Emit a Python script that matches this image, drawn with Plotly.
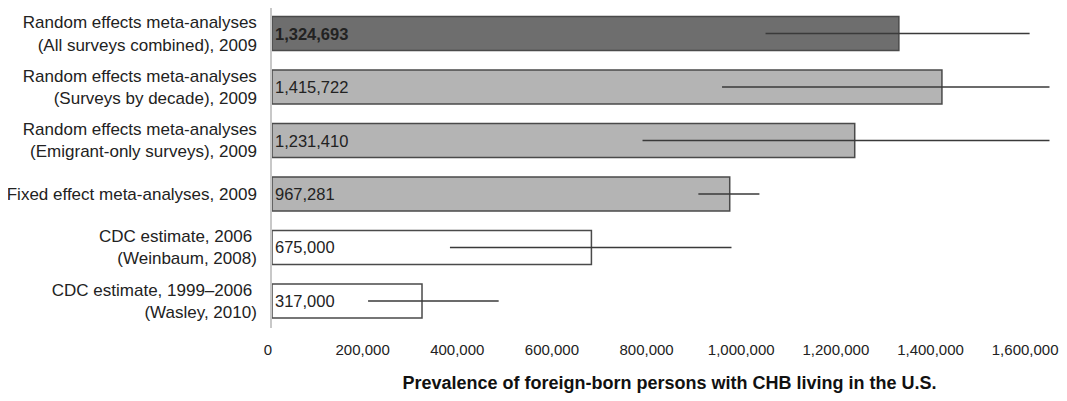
import plotly.graph_objects as go

categories = [
    "Random effects meta-analyses<br>(All surveys combined), 2009",
    "Random effects meta-analyses<br>(Surveys by decade), 2009",
    "Random effects meta-analyses<br>(Emigrant-only surveys), 2009",
    "Fixed effect meta-analyses, 2009",
    "CDC estimate, 2006 <br>(Weinbaum, 2008)",
    "CDC estimate, 1999–2006 <br>(Wasley, 2010)",
]
values = [1324693, 1415722, 1231410, 967281, 675000, 317000]
ci_low = [1043000, 951000, 783000, 901000, 376000, 203000]
ci_high = [1601000, 1643000, 1643000, 1030000, 971000, 479000]
value_labels = ["<b>1,324,693</b>", "1,415,722", "1,231,410", "967,281", "675,000", "317,000"]
fill_colors = ["#6e6e6e", "#b4b4b4", "#b4b4b4", "#b4b4b4", "#ffffff", "#ffffff"]
tick_vals = [0, 200000, 400000, 600000, 800000, 1000000, 1200000, 1400000, 1600000]
tick_text = ["0", "200,000", "400,000", "600,000", "800,000", "1,000,000", "1,200,000", "1,400,000", "1,600,000"]

err_plus = [h - v for h, v in zip(ci_high, values)]
err_minus = [v - l for l, v in zip(ci_low, values)]

FONT = "Liberation Sans, Arial, sans-serif"

fig = go.Figure(
    go.Bar(
        x=values,
        y=categories,
        orientation="h",
        marker=dict(color=fill_colors, line=dict(color="#4a4a4a", width=1.5)),
        text=value_labels,
        textposition="inside",
        insidetextanchor="start",
        constraintext="none",
        textfont=dict(family=FONT, size=16.5, color="#222222"),
        error_x=dict(type="data", symmetric=False, array=err_plus, arrayminus=err_minus,
                     color="#3a3a3a", thickness=1.4, width=0),
        hoverinfo="skip",
    )
)

# page body has an 8px margin; figure offset accounted for in the margins
fig.update_layout(
    width=1059,
    height=385,
    margin=dict(l=264, r=0, t=0, b=65),
    paper_bgcolor="white",
    plot_bgcolor="white",
    bargap=0.365,
    showlegend=False,
    font=dict(family=FONT, size=16.5, color="#222222"),
)
fig.update_xaxes(
    range=[0, 1680000],
    automargin=False,
    tickvals=tick_vals,
    ticktext=tick_text,
    showgrid=False,
    zeroline=False,
    showline=False,
    ticks="",
    ticklabelstandoff=11,
    ticklabelshift=-4,
    tickfont=dict(family=FONT, size=15, color="#222222"),
    title=dict(text="<b>Prevalence of foreign-born persons with CHB living in the U.S.</b>",
               font=dict(family=FONT, size=18, color="#111111"), standoff=20),
)
fig.update_yaxes(
    range=[5.505, -0.477],
    automargin=False,
    showgrid=False,
    zeroline=False,
    showline=True,
    linecolor="#c8c8c8",
    linewidth=1.5,
    ticks="",
    ticklabelstandoff=10,
    tickfont=dict(family=FONT, size=17, color="#222222"),
)

fig.write_html("out.html")
